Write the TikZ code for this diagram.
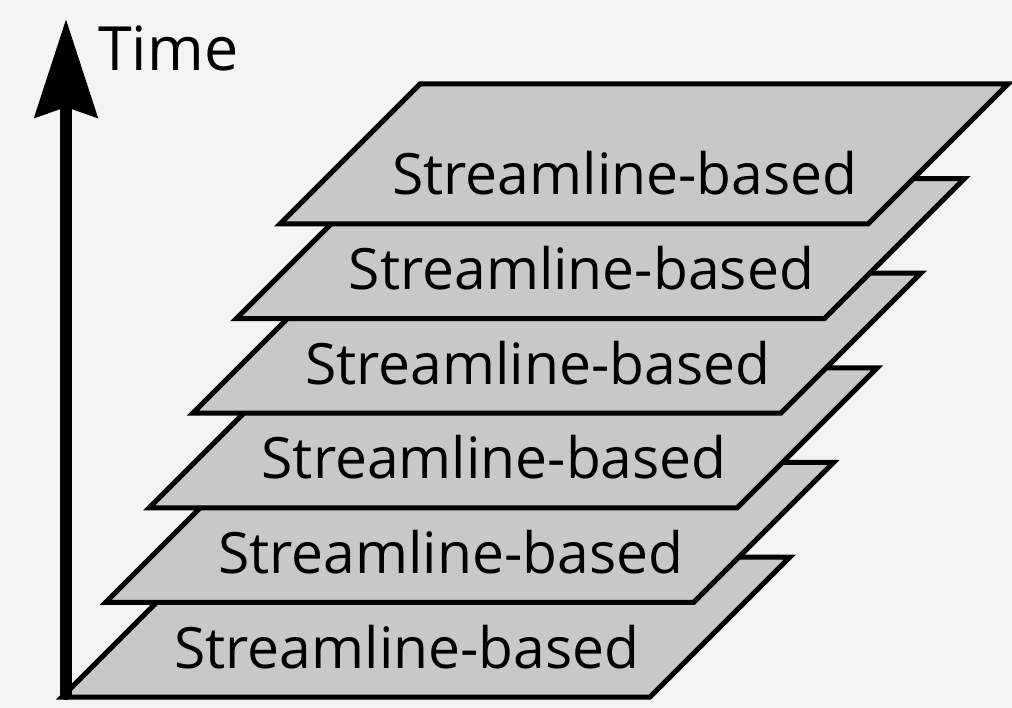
\documentclass[tikz,border=0pt]{standalone}
\usepackage{fontspec}
\setmainfont{Open Sans}
\usepackage{xcolor}
\usepackage{tikz}
\usetikzlibrary{arrows.meta, positioning}

\definecolor{paper}{HTML}{F4F4F4}
\definecolor{slab}{HTML}{C8C8C8}

\begin{document}
\begin{tikzpicture}[x=1pt, y=-1pt,
        layer/.style={line width=5pt, draw=black, fill=slab},
        slabtext/.style={anchor=base, inner sep=0pt, font=\fontsize{57}{60}\selectfont},
        timeaxis/.style={line width=12pt, line cap=round, -{Stealth[length=98pt, width=62pt, inset=10pt]}}]
        \fill[paper] (0,0) rectangle (1012,708);
        \useasboundingbox (0,0) rectangle (1012,708);

        \draw[layer] (62,697) -- ++(588,0) -- ++(140,-140) -- ++(-588,0) -- cycle;
        \node[slabtext] (sl1) at (407,668) {Streamline-based};
        \draw[layer] (105.6,602.4) -- ++(588,0) -- ++(140,-140) -- ++(-588,0) -- cycle;
        \node[slabtext] (sl2) at (450.6,573.4) {Streamline-based};
        \draw[layer] (149.2,507.8) -- ++(588,0) -- ++(140,-140) -- ++(-588,0) -- cycle;
        \node[slabtext] (sl3) at (494.2,478.8) {Streamline-based};
        \draw[layer] (192.8,413.2) -- ++(588,0) -- ++(140,-140) -- ++(-588,0) -- cycle;
        \node[slabtext] (sl4) at (537.8,384.2) {Streamline-based};
        \draw[layer] (236.4,318.6) -- ++(588,0) -- ++(140,-140) -- ++(-588,0) -- cycle;
        \node[slabtext] (sl5) at (581.4,289.6) {Streamline-based};
        \draw[layer] (280,224) -- ++(588,0) -- ++(140,-140) -- ++(-588,0) -- cycle;
        \node[slabtext] (sl6) at (625,195) {Streamline-based};

        \coordinate (origin) at (66,694);
        \coordinate (top) at (66,19);
        \draw[timeaxis] (origin) to (top);
        \node[slabtext, anchor=base west, font=\fontsize{61}{64}\selectfont] (time) at (98,71) {Time};
    \end{tikzpicture}
\end{document}
